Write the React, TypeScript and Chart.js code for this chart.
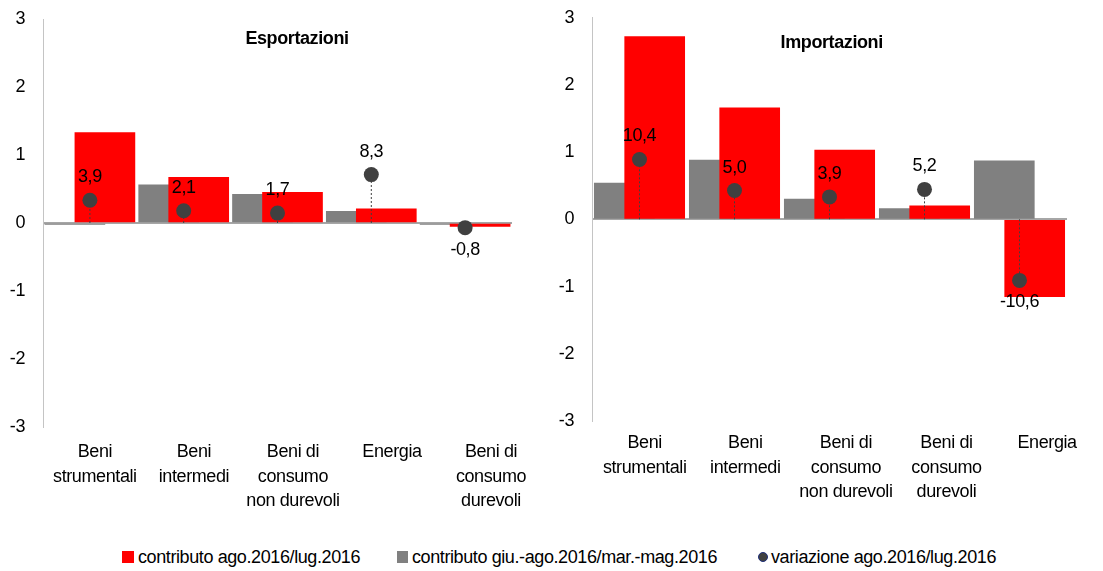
import React, { useEffect, useRef } from "react";
import { Chart, registerables } from "chart.js";

Chart.register(...registerables);

const FONT = "'Liberation Sans', Arial, sans-serif";
const FS = 18;
const LS = "-0.4px";

// ---- data ----
const categoriesExp: string[][] = [
  ["Beni", "strumentali"],
  ["Beni", "intermedi"],
  ["Beni di", "consumo", "non durevoli"],
  ["Energia"],
  ["Beni di", "consumo", "durevoli"],
];
const categoriesImp: string[][] = [
  ["Beni", "strumentali"],
  ["Beni", "intermedi"],
  ["Beni di", "consumo", "non durevoli"],
  ["Beni di", "consumo", "durevoli"],
  ["Energia"],
];
const expContributoAgoLug = [1.33, 0.67, 0.45, 0.21, -0.05];
const expContributoGiuAgo = [-0.02, 0.56, 0.42, 0.17, -0.02];
const expVariazione = [3.9, 2.1, 1.7, 8.3, -0.8];
const impContributoAgoLug = [2.72, 1.66, 1.03, 0.2, -1.15];
const impContributoGiuAgo = [0.54, 0.88, 0.3, 0.16, 0.87];
const impVariazione = [10.4, 5.0, 3.9, 5.2, -10.6];
const yTicks = [-3, -2, -1, 0, 1, 2, 3];
const legendLabels = [
  "contributo ago.2016/lug.2016",
  "contributo giu.-ago.2016/mar.-mag.2016",
  "variazione ago.2016/lug.2016",
];

const RED = "#ff0000";
const GRAY = "#808080";
const DOT = "#404040";

type PanelCfg = {
  title: string;
  categories: string[][];
  red: number[];
  gray: number[];
  dots: number[];
  left: number;
  width: number;
  height: number;
  padTop: number;
  padRight: number;
  yWidth: number;
  xAxisHeight: number;
  xPad: number;
  titleX: number;
  titleDy: number;
  labelMin: number;
  labelMax: number;
};

function Panel({ cfg }: { cfg: PanelCfg }) {
  const ref = useRef<HTMLCanvasElement>(null);
  useEffect(() => {
    const canvas = ref.current!;
    const barData = (vals: number[], off: number) => vals.map((v, i) => ({ x: i + off, y: v }));
    const drop: any[] = [];
    cfg.dots.forEach((v, i) => {
      drop.push({ x: i, y: 0 }, { x: i, y: v }, { x: i, y: null });
    });
    const annot = {
      id: "annot",
      beforeDraw(chart: any) {
        (chart.ctx as any).letterSpacing = LS;
      },
      afterDatasetsDraw(chart: any) {
        const ctx = chart.ctx;
        const meta = chart.getDatasetMeta(3);
        ctx.save();
        ctx.font = `${FS}px ${FONT}`;
        ctx.fillStyle = "#000";
        ctx.textAlign = "center";
        ctx.textBaseline = "middle";
        meta.data.forEach((pt: any, i: number) => {
          const v = cfg.dots[i];
          const y = v >= 0 ? pt.y - 23 : pt.y + 22;
          ctx.fillText(v.toFixed(1).replace(".", ","), pt.x, y);
        });
        const a = chart.chartArea;
        ctx.font = `bold ${FS}px ${FONT}`;
        ctx.fillText(cfg.title, a.left + a.width * cfg.titleX, a.top + cfg.titleDy);
        ctx.restore();
      },
    };
    const chart = new Chart(canvas, {
      type: "bar",
      data: {
        datasets: [
          {
            type: "bar",
            label: legendLabels[1],
            data: barData(cfg.gray, -0.16),
            backgroundColor: GRAY,
            order: 3,
            xAxisID: "x",
            yAxisID: "y",
            grouped: false,
            barThickness: 60,
          } as any,
          {
            type: "bar",
            label: legendLabels[0],
            data: barData(cfg.red, 0.16),
            backgroundColor: RED,
            order: 2,
            xAxisID: "x",
            yAxisID: "y",
            grouped: false,
            barThickness: 60,
          } as any,
          {
            type: "line",
            label: "drop",
            data: drop,
            borderColor: DOT,
            borderWidth: 1,
            borderDash: [2, 2],
            pointRadius: 0,
            spanGaps: false,
            order: 1,
            xAxisID: "x",
            yAxisID: "y2",
          } as any,
          {
            type: "line",
            label: legendLabels[2],
            data: cfg.dots.map((v, i) => ({ x: i, y: v })),
            showLine: false,
            pointRadius: 7.5,
            pointBackgroundColor: DOT,
            pointBorderColor: DOT,
            pointBorderWidth: 0,
            order: 0,
            xAxisID: "x",
            yAxisID: "y2",
          } as any,
        ],
      },
      options: {
        responsive: false,
        animation: false,
        devicePixelRatio: 1,
        layout: { padding: { top: cfg.padTop, right: cfg.padRight, left: 0, bottom: 0 } },
        plugins: { legend: { display: false }, tooltip: { enabled: false } },
        scales: {
          x: { type: "linear", min: -0.5, max: 4.5, display: false, offset: false },
          xl: {
            type: "linear",
            position: "bottom",
            offset: false,
            min: cfg.labelMin,
            max: cfg.labelMax,
            grid: { display: false, drawTicks: false },
            border: { display: false },
            afterBuildTicks: (s: any) => {
              s.ticks = cfg.categories.map((_, i) => ({ value: i }));
            },
            afterFit: (s: any) => {
              s.height = cfg.xAxisHeight;
              s.paddingLeft = 0;
              s.paddingRight = 0;
            },
            ticks: {
              autoSkip: false,
              maxRotation: 0,
              minRotation: 0,
              padding: cfg.xPad,
              color: "#000",
              font: { size: FS, family: FONT, lineHeight: 1.36 },
              callback: (v: any) => cfg.categories[v as number],
            },
          },
          y: {
            type: "linear",
            min: -3,
            max: 3,
            afterBuildTicks: (s: any) => {
              s.ticks = yTicks.map((v) => ({ value: v }));
            },
            afterFit: (s: any) => {
              s.width = cfg.yWidth;
              s.paddingTop = 0;
              s.paddingBottom = 0;
            },
            grid: {
              drawTicks: false,
              color: (c: any) => (c.tick && c.tick.value === 0 ? "#a6a6a6" : "rgba(0,0,0,0)"),
              lineWidth: 2,
            },
            border: { display: true, color: "#c4c4c4", width: 1 },
            ticks: { padding: 18, color: "#000", font: { size: FS, family: FONT, lineHeight: 1.2 } },
          },
          y2: { type: "linear", min: -35, max: 35, display: false },
        },
      } as any,
      plugins: [annot],
    });
    return () => chart.destroy();
  }, [cfg]);
  return (
    <canvas
      ref={ref}
      width={cfg.width}
      height={cfg.height}
      style={{ position: "absolute", left: cfg.left, top: 0, width: cfg.width, height: cfg.height }}
    />
  );
}

const leftCfg: PanelCfg = {
  title: "Esportazioni",
  categories: categoriesExp,
  red: expContributoAgoLug,
  gray: expContributoGiuAgo,
  dots: expVariazione,
  left: 0,
  width: 550,
  height: 540,
  padTop: 19,
  padRight: 38,
  yWidth: 43,
  xAxisHeight: 113,
  xPad: 13,
  titleX: 0.5416,
  titleDy: 20.3,
  labelMin: -0.524,
  labelMax: 4.212,
};

const rightCfg: PanelCfg = {
  title: "Importazioni",
  categories: categoriesImp,
  red: impContributoAgoLug,
  gray: impContributoGiuAgo,
  dots: impVariazione,
  left: 550,
  width: 553,
  height: 540,
  padTop: 17.7,
  padRight: 36,
  yWidth: 42,
  xAxisHeight: 119,
  xPad: 10,
  titleX: 0.5046,
  titleDy: 25.6,
  labelMin: -0.524,
  labelMax: 4.198,
};

export default function App() {
  const textStyle: React.CSSProperties = {
    position: "absolute",
    top: 545,
    height: 24,
    lineHeight: "24px",
    fontFamily: FONT,
    fontSize: FS,
    letterSpacing: LS,
    color: "#000",
    whiteSpace: "nowrap",
  };
  return (
    <div
      style={{
        position: "fixed",
        left: 0,
        top: 0,
        width: 1103,
        height: 571,
        background: "#fff",
        overflow: "hidden",
      }}
    >
      <Panel cfg={leftCfg} />
      <Panel cfg={rightCfg} />
      <div style={{ position: "absolute", left: 122, top: 551, width: 12, height: 12, background: RED }} />
      <div style={{ ...textStyle, left: 138 }}>{legendLabels[0]}</div>
      <div style={{ position: "absolute", left: 397, top: 551, width: 11, height: 12, background: GRAY }} />
      <div style={{ ...textStyle, left: 412 }}>{legendLabels[1]}</div>
      <div
        style={{
          position: "absolute",
          left: 758,
          top: 552,
          width: 8,
          height: 8,
          borderRadius: "50%",
          background: DOT,
          border: "1.5px solid #1f2f7a",
        }}
      />
      <div style={{ ...textStyle, left: 771 }}>{legendLabels[2]}</div>
    </div>
  );
}
